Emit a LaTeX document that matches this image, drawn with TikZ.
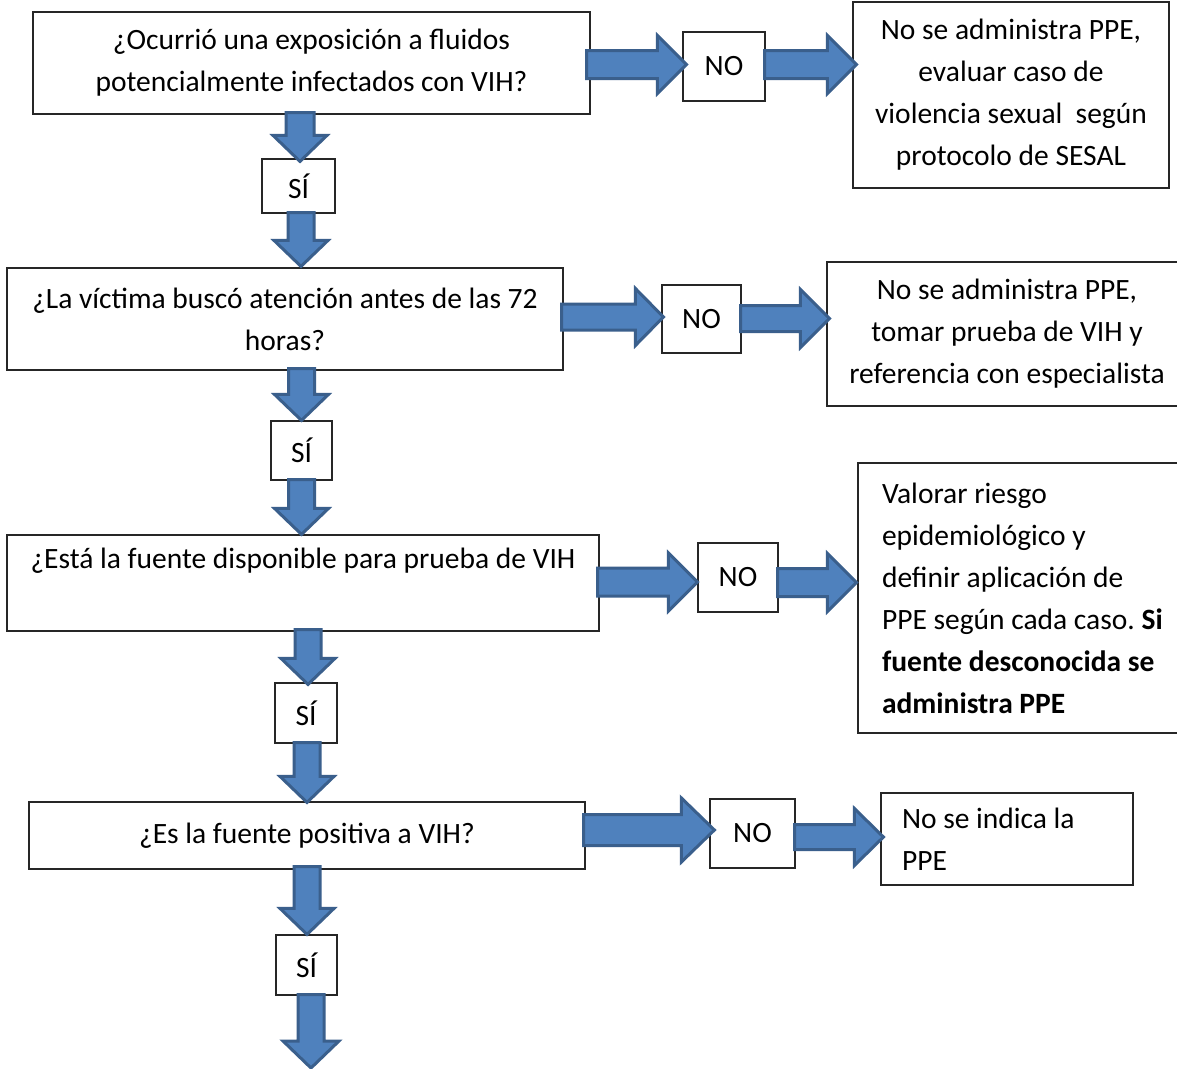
\documentclass[tikz,border=0pt]{standalone}
\usepackage{fontspec}
\setmainfont{Carlito}
\frenchspacing
\usetikzlibrary{calc}
\definecolor{arrfill}{HTML}{4F81BD}
\definecolor{arrline}{HTML}{3A5F8C}
\tikzset{
  box/.style={draw=black!85, line width=1.2pt, fill=white, inner sep=0pt, align=center,
    font=\fontsize{29.5}{42}\selectfont\frenchspacing},
  blockarrow/.style={fill=arrfill, draw=arrline, line width=3pt, line join=miter}
}
% horizontal block arrow: start, tip, shaft half, head half, head length
\newcommand\harrowdraw[5]{%
  \path[blockarrow] let \p1=(#1), \p2=(#2) in
    (\x1,\y1+#3pt) -- (\x2-#5pt,\y1+#3pt) -- (\x2-#5pt,\y1+#4pt) -- (\x2,\y1)
    -- (\x2-#5pt,\y1-#4pt) -- (\x2-#5pt,\y1-#3pt) -- (\x1,\y1-#3pt) -- cycle;}
% vertical block arrow (downwards): start, tip, shaft half, head half, head length
\newcommand\varrowdraw[5]{%
  \path[blockarrow] let \p1=(#1), \p2=(#2) in
    (\x1-#3pt,\y1) -- (\x1-#3pt,\y2+#5pt) -- (\x1-#4pt,\y2+#5pt) -- (\x1,\y2)
    -- (\x1+#4pt,\y2+#5pt) -- (\x1+#3pt,\y2+#5pt) -- (\x1+#3pt,\y1) -- cycle;}
\begin{document}
\begin{tikzpicture}[x=1pt, y=-1pt]
\useasboundingbox (0,0) rectangle (1177,1068);
\clip (0,0) rectangle (1177,1068);
\fill[white] (0,0) rectangle (1177,1068);

% row 1
\node[box, minimum width=557pt, minimum height=102pt] (b1) at (311.5,63)
  {¿Ocurrió una exposición a fluidos\\potencialmente infectados con VIH?};
\node[box, minimum width=82pt, minimum height=69pt] (no1) at (724,66.5) {NO};
\node[box, minimum width=316pt, minimum height=186pt] (r1) at (1011,95)
  {No se administra PPE,\\evaluar caso de\\violencia sexual\ \ según\\protocolo de SESAL};
\node[box, minimum width=73pt, minimum height=54pt] (si1) at (298.5,186) {SÍ};

% row 2
\node[box, minimum width=556pt, minimum height=102pt] (b2) at (285,319)
  {¿La víctima buscó atención antes de las 72\\horas?};
\node[box, minimum width=79pt, minimum height=68pt] (no2) at (701.5,319) {NO};
\node[box, minimum width=360pt, minimum height=144pt] (r2) at (1007,334)
  {No se administra PPE,\\tomar prueba de VIH y\\referencia con especialista};
\node[box, minimum width=61pt, minimum height=59pt] (si2) at (301.5,450.5) {SÍ};

% row 3
\node[box, minimum width=592pt, minimum height=96pt] (b3) at (303,583)
  {\raisebox{-5pt}{¿Está la fuente disponible para prueba de VIH}\\\strut};
\node[box, minimum width=80pt, minimum height=69pt] (no3) at (738,577.5) {NO};
\node[box, minimum width=340pt, minimum height=270pt, align=flush left, text width=292pt] (r3) at (1028,598)
  {Valorar riesgo\\epidemiológico y\\definir aplicación de\\PPE según cada caso. \textbf{Si}\\\textbf{fuente desconocida se}\\\textbf{administra PPE}};
\node[box, minimum width=62pt, minimum height=60pt] (si3) at (306,713) {SÍ};

% row 4
\node[box, minimum width=556pt, minimum height=67pt] (b4) at (307,835.5)
  {¿Es la fuente positiva a VIH?};
\node[box, minimum width=85pt, minimum height=69pt] (no4) at (752.5,833.5) {NO};
\node[box, minimum width=252pt, minimum height=92pt, align=flush left, text width=210pt] (r4) at (1007,839)
  {No se indica la\\PPE};
\node[box, minimum width=61pt, minimum height=60pt] (si4) at (306.5,965) {SÍ};
\coordinate (endpt) at (311,1068);

% horizontal arrows
\harrowdraw{$(b1.east)+(-4,1.5)$}{$(no1.west)+(4,0)$}{14}{29}{29}
\harrowdraw{$(no1.east)+(-1,-2)$}{$(r1.west)+(4,0)$}{14}{29}{29}
\harrowdraw{$(b2.east)+(-2,-2)$}{$(no2.west)+(2,0)$}{13}{28.5}{28}
\harrowdraw{$(no2.east)+(-1,-0.5)$}{$(r2.west)+(3,0)$}{13}{29}{29}
\harrowdraw{$(b3.east)+(-2,-1)$}{$(no3.west)+(0,0)$}{14}{29}{29}
\harrowdraw{$(no3.east)+(-1,5)$}{$(r3.west)+(-1,0)$}{14}{29}{29}
\harrowdraw{$(b4.east)+(-2,-5.5)$}{$(no4.west)+(5,0)$}{15.5}{32}{33}
\harrowdraw{$(no4.east)+(-1,3.5)$}{$(r4.west)+(3,0)$}{12.5}{28.5}{29}

% vertical arrows
\varrowdraw{$(si1.north |- b1.south)+(1.5,-2)$}{$(si1.north)+(0,3)$}{14}{27}{26}
\varrowdraw{$(si1.south)+(2.5,-1)$}{$(si1.south |- b2.north)+(0,-1)$}{13}{27}{26}
\varrowdraw{$(si2.north |- b2.south)+(0,-2)$}{$(si2.north)+(0,0)$}{13}{27}{26}
\varrowdraw{$(si2.south)+(0,-1)$}{$(si2.south |- b3.north)$}{13}{27}{26}
\varrowdraw{$(si3.north |- b3.south)+(2,-2)$}{$(si3.north)+(0,2)$}{13}{27}{26}
\varrowdraw{$(si3.south)+(1,-1)$}{$(si3.south |- b4.north)+(0,1)$}{13}{27}{26}
\varrowdraw{$(si4.north |- b4.south)+(0.5,-3)$}{$(si4.north)$}{13}{27}{26}
\varrowdraw{$(si4.south)+(4.5,-1)$}{endpt}{13}{28}{27}
\end{tikzpicture}
\end{document}
